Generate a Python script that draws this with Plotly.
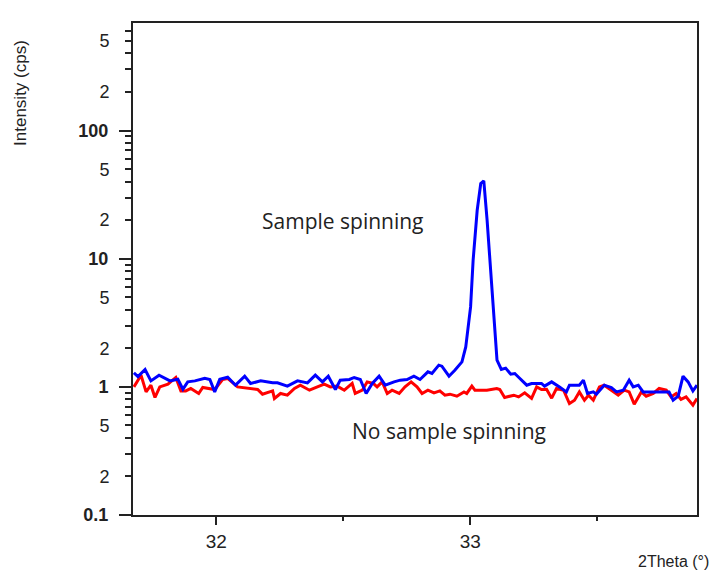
import plotly.graph_objects as go

# Blue: sample spinning (2Theta in degrees, intensity in cps)
spin_2theta = [31.676, 31.692, 31.720, 31.743, 31.775, 31.798, 31.818, 31.849, 31.869, 31.888,
               31.916, 31.955, 31.975, 31.994, 32.014, 32.045, 32.076, 32.112, 32.135, 32.175,
               32.222, 32.241, 32.280, 32.320, 32.359, 32.390, 32.418, 32.441, 32.469, 32.488,
               32.524, 32.543, 32.567, 32.590, 32.614, 32.641, 32.665, 32.700, 32.724, 32.751,
               32.778, 32.802, 32.833, 32.849, 32.876, 32.888, 32.916, 32.939, 32.967, 32.982,
               33.001, 33.011, 33.027, 33.041, 33.053, 33.066, 33.079, 33.092, 33.105, 33.122,
               33.139, 33.159, 33.175, 33.190, 33.222, 33.241, 33.280, 33.292, 33.320, 33.351,
               33.378, 33.390, 33.429, 33.445, 33.461, 33.484, 33.496, 33.527, 33.555, 33.575,
               33.602, 33.625, 33.641, 33.661, 33.680, 33.720, 33.759, 33.782, 33.798, 33.818,
               33.837, 33.857, 33.876, 33.892]
spin_cps = [1.286, 1.203, 1.367, 1.114, 1.234, 1.163, 1.114, 1.148, 0.959, 1.094,
            1.114, 1.169, 1.142, 0.914, 1.148, 1.190, 1.031, 1.212, 1.063, 1.114,
            1.075, 1.075, 1.013, 1.114, 1.075, 1.234, 1.094, 1.212, 0.954, 1.128,
            1.142, 1.184, 1.142, 0.888, 1.063, 1.212, 1.031, 1.094, 1.128, 1.142,
            1.212, 1.142, 1.310, 1.272, 1.477, 1.451, 1.212, 1.350, 1.567, 2.05,
            4.21, 9.75, 23.9, 38.7, 40.6, 20.0, 8.15, 3.32, 1.616, 1.367,
            1.40, 1.256, 1.272, 1.190, 1.031, 1.063, 1.063, 1.013, 1.094, 1.0,
            0.914, 1.031, 1.031, 1.128, 0.888, 0.914, 0.877, 1.031, 0.989, 0.914,
            0.942, 1.128, 1.0, 1.031, 0.914, 0.914, 0.914, 0.914, 0.787, 0.846,
            1.212, 1.094, 0.930, 1.031]

# Red: no sample spinning
static_2theta = [31.676, 31.704, 31.724, 31.743, 31.759, 31.778, 31.810, 31.841, 31.861, 31.880,
                 31.900, 31.931, 31.947, 31.994, 32.025, 32.045, 32.084, 32.135, 32.163, 32.182,
                 32.222, 32.229, 32.253, 32.280, 32.308, 32.331, 32.367, 32.398, 32.425, 32.449,
                 32.476, 32.504, 32.535, 32.547, 32.575, 32.594, 32.618, 32.633, 32.653, 32.673,
                 32.692, 32.720, 32.743, 32.767, 32.790, 32.810, 32.833, 32.857, 32.880, 32.900,
                 32.920, 32.947, 32.975, 32.986, 33.006, 33.018, 33.065, 33.104, 33.116, 33.135,
                 33.171, 33.190, 33.214, 33.241, 33.261, 33.280, 33.300, 33.320, 33.339, 33.367,
                 33.390, 33.410, 33.429, 33.449, 33.465, 33.484, 33.508, 33.527, 33.555, 33.582,
                 33.606, 33.625, 33.645, 33.673, 33.692, 33.720, 33.743, 33.771, 33.790, 33.810,
                 33.829, 33.849, 33.876, 33.892]
static_cps = [1.0, 1.234, 0.914, 1.031, 0.827, 1.0, 1.05, 1.184, 0.93, 0.93,
              0.972, 0.888, 0.989, 0.954, 1.142, 1.163, 1.0, 0.972, 0.954, 0.877,
              0.93, 0.812, 0.888, 0.861, 0.972, 1.031, 0.942, 1.0, 1.05, 1.0,
              1.013, 0.942, 1.063, 0.888, 0.942, 1.094, 1.063, 1.0, 1.094, 0.888,
              0.942, 0.888, 1.0, 1.094, 1.0, 0.888, 0.942, 0.898, 0.93, 0.861,
              0.877, 0.846, 0.914, 0.888, 1.013, 0.942, 0.942, 0.972, 0.954, 0.827,
              0.861, 0.835, 0.898, 0.812, 1.0, 0.954, 0.959, 0.816, 0.972, 0.942,
              0.742, 0.787, 0.914, 0.787, 0.861, 0.787, 1.0, 1.031, 0.942, 0.861,
              0.942, 0.914, 0.733, 0.914, 0.846, 0.888, 0.972, 0.942, 0.835, 0.888,
              0.80, 0.835, 0.72, 0.812]

x_tick_vals = [32, 33]
x_tick_text = ["32", "33"]
y_major_vals = [0.1, 1, 10, 100]
y_major_text = ["<b>0.1</b>", "<b>1</b>", "<b>10</b>", "<b>100</b>"]
y_minor_vals = [0.2, 0.5, 2, 5, 20, 50, 200, 500]
y_minor_text = ["2", "5", "2", "5", "2", "5", "2", "5"]

TICKFONT = "Liberation Sans, Arial, sans-serif"
ANNFONT = "Open Sans, sans-serif"
YRANGE = [-1, 2.84]
XRANGE = [31.6725, 33.892]

fig = go.Figure()
fig.add_trace(go.Scatter(x=static_2theta, y=static_cps, mode="lines",
                         line=dict(color="#ff0000", width=3), name="No sample spinning"))
fig.add_trace(go.Scatter(x=spin_2theta, y=spin_cps, mode="lines",
                         line=dict(color="#0000ff", width=3), name="Sample spinning"))
# helper trace so the secondary label axis is rendered
fig.add_trace(go.Scatter(x=spin_2theta, y=spin_cps, yaxis="y2", mode="lines",
                         line=dict(width=0, color="rgba(0,0,0,0)"), hoverinfo="skip",
                         showlegend=False))

fig.update_layout(
    width=709, height=573,
    margin=dict(l=133, r=10, t=23, b=58),
    paper_bgcolor="white", plot_bgcolor="white",
    showlegend=False,
    xaxis=dict(range=XRANGE, tickvals=x_tick_vals, ticktext=x_tick_text,
               ticks="outside", ticklen=8, tickwidth=2, tickcolor="#222",
               minor=dict(dtick=0.5, ticks="outside", ticklen=4, tickwidth=2, tickcolor="#222"),
               showline=True, linewidth=2, linecolor="#222", mirror=True,
               showgrid=False, zeroline=False,
               tickfont=dict(family=TICKFONT, size=19, color="#222")),
    yaxis=dict(type="log", range=YRANGE, tickvals=y_major_vals, ticktext=y_major_text,
               ticks="outside", ticklen=12, tickwidth=2, tickcolor="#222",
               minor=dict(dtick="D1", ticks="outside", ticklen=6, tickwidth=2, tickcolor="#222"),
               showline=True, linewidth=2, linecolor="#222", mirror=True,
               showgrid=False, zeroline=False, ticklabelstandoff=7,
               tickfont=dict(family=TICKFONT, size=18, color="#222")),
    yaxis2=dict(type="log", range=YRANGE, overlaying="y", side="left",
                tickvals=y_minor_vals, ticktext=y_minor_text,
                ticks="outside", ticklen=6, tickwidth=2, tickcolor="#222",
                showline=False, showgrid=False, zeroline=False, ticklabelstandoff=13,
                tickfont=dict(family=TICKFONT, size=18, color="#222")),
)

fig.add_annotation(text="Sample spinning", xref="paper", yref="paper",
                   x=0.3716, y=0.597, xanchor="center", yanchor="middle", showarrow=False,
                   font=dict(family=ANNFONT, size=21, color="#222"))
fig.add_annotation(text="No sample spinning", xref="paper", yref="paper",
                   x=0.560, y=0.170, xanchor="center", yanchor="middle", showarrow=False,
                   font=dict(family=ANNFONT, size=21, color="#222"))
fig.add_annotation(text="Intensity (cps)", xref="paper", yref="paper",
                   x=-0.1996, y=0.8587, xanchor="center", yanchor="middle", textangle=-90,
                   showarrow=False, font=dict(family=TICKFONT, size=17, color="#222"))
fig.add_annotation(text="2Theta (°)", xref="paper", yref="paper",
                   x=1.024, y=-0.0935, xanchor="right", yanchor="middle",
                   showarrow=False, font=dict(family=TICKFONT, size=16, color="#222"))

fig.write_html("out.html", config={"displayModeBar": False},
               post_script="document.body.style.margin='0';")
